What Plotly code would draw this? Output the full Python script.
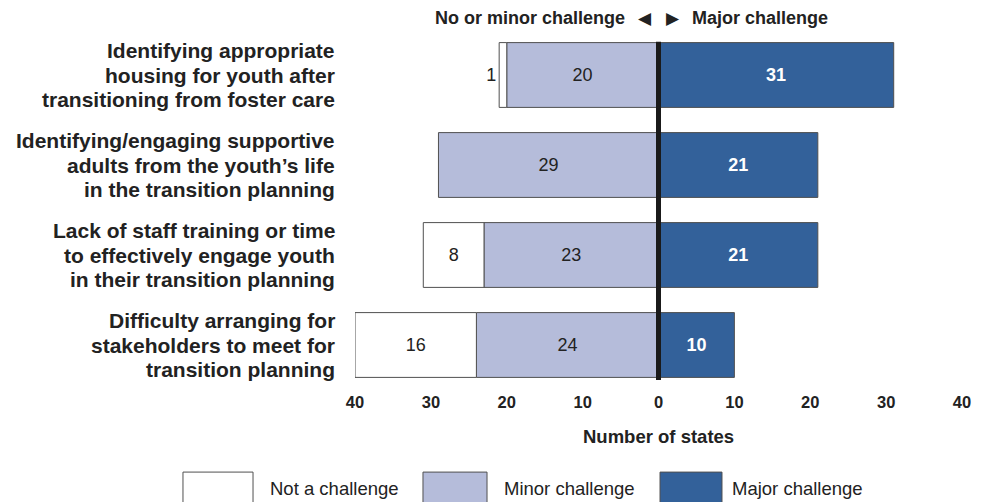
import plotly.graph_objects as go

categories = [
    "Identifying appropriate<br>housing for youth after<br>transitioning from foster care",
    "Identifying/engaging supportive<br>adults from the youth\u2019s life<br>in the transition planning",
    "Lack of staff training or time<br>to effectively engage youth<br>in their transition planning",
    "Difficulty arranging for<br>stakeholders to meet for<br>transition planning",
]
not_challenge = [1, 0, 8, 16]
minor_challenge = [20, 29, 23, 24]
major_challenge = [31, 21, 21, 10]
tick_vals = [-40, -30, -20, -10, 0, 10, 20, 30, 40]
tick_text = ["40", "30", "20", "10", "0", "10", "20", "30", "40"]
legend_names = ["Not a challenge", "Minor challenge", "Major challenge"]

WHITE = "#ffffff"
MINOR = "#b5bcda"
MAJOR = "#33619a"
EDGE = "#505050"
TXT = "#222222"
FONT = "Liberation Sans, Arial, sans-serif"
NARROW = "Liberation Sans Narrow, Arial Narrow, Liberation Sans, sans-serif"

fig = go.Figure()

fig.add_trace(go.Bar(
    y=categories, x=[-v for v in minor_challenge], orientation="h",
    marker=dict(color=MINOR, line=dict(color=EDGE, width=1)),
    text=[str(v) for v in minor_challenge], textposition="inside",
    insidetextanchor="middle", textangle=0,
    textfont=dict(family=FONT, size=18, color=TXT),
    name=legend_names[1], showlegend=False,
))
fig.add_trace(go.Bar(
    y=categories, x=[-v for v in not_challenge], orientation="h",
    marker=dict(color=WHITE, line=dict(color=EDGE, width=1)),
    text=[str(v) if v > 0 else "" for v in not_challenge],
    textposition=["outside" if v < 3 else "inside" for v in not_challenge],
    insidetextanchor="middle", textangle=0, cliponaxis=False,
    textfont=dict(family=FONT, size=18, color=TXT),
    name=legend_names[0], showlegend=False,
))
fig.add_trace(go.Bar(
    y=categories, x=major_challenge, orientation="h",
    marker=dict(color=MAJOR, line=dict(color=EDGE, width=1)),
    text=[str(v) for v in major_challenge], textposition="inside",
    insidetextanchor="middle", textangle=0,
    textfont=dict(family=FONT, size=18, color="white", weight="bold"),
    name=legend_names[2], showlegend=False,
))

# zero divider
fig.add_shape(type="line", xref="x", yref="y", x0=0, x1=0, y0=-0.37, y1=3.39,
              line=dict(color="#1a1a1a", width=5))

# category labels, one annotation per line for tight line spacing
for idx, cat in enumerate(categories):
    lines = cat.split("<br>")
    n = len(lines)
    for j, line in enumerate(lines):
        fig.add_annotation(xref="paper", yref="y", x=-0.0297, y=idx,
                           yshift=((n - 1) / 2 - j) * 24.5,
                           xanchor="right", yanchor="middle", showarrow=False,
                           text="<b>" + line + "</b>",
                           font=dict(family=FONT, size=21, color=TXT))

# header
HY = 1.0333
fig.add_annotation(xref="paper", yref="paper", x=0.4481, y=HY, xanchor="right",
                   yanchor="middle", showarrow=False,
                   text="<b>No or minor challenge</b>",
                   font=dict(family=FONT, size=18, color=TXT))
fig.add_annotation(xref="paper", yref="paper", x=0.5519, y=HY, xanchor="left",
                   yanchor="middle", showarrow=False,
                   text="<b>Major challenge</b>",
                   font=dict(family=FONT, size=18, color=TXT))
fig.add_annotation(xref="paper", yref="paper", x=0.4778, y=HY, xanchor="center",
                   yanchor="middle", showarrow=False, text="\u25c0",
                   font=dict(family="DejaVu Sans", size=17, color=TXT))
fig.add_annotation(xref="paper", yref="paper", x=0.5239, y=HY, xanchor="center",
                   yanchor="middle", showarrow=False, text="\u25b6",
                   font=dict(family="DejaVu Sans", size=17, color=TXT))

# axis title
fig.add_annotation(xref="paper", yref="paper", x=0.5, y=-0.13, xanchor="center",
                   yanchor="middle", showarrow=False, text="<b>Number of states</b>",
                   font=dict(family=NARROW, size=18.5, color=TXT))

# legend (manual)
legend_boxes = [(-0.2834, -0.168, WHITE), (0.112, 0.2175, MINOR), (0.5025, 0.6046, MAJOR)]
legend_text_x = [-0.1433, 0.2422, 0.6178]
for (x0, x1, col), tx, name in zip(legend_boxes, legend_text_x, legend_names):
    fig.add_shape(type="rect", xref="paper", yref="paper", x0=x0, x1=x1,
                  y0=-0.33, y1=-0.228, fillcolor=col, line=dict(color=EDGE, width=1))
    fig.add_annotation(xref="paper", yref="paper", x=tx, y=-0.275, xanchor="left",
                       yanchor="middle", showarrow=False, text=name,
                       font=dict(family=NARROW, size=18.5, color=TXT))

# page body has an 8px margin, so shrink the figure and margins to match
fig.update_layout(
    width=981, height=494,
    margin=dict(l=347, r=27, t=22, b=112),
    barmode="relative", bargap=0.28,
    plot_bgcolor="white", paper_bgcolor="white",
    font=dict(family=FONT, color=TXT),
    xaxis=dict(range=[-40, 40], tickvals=tick_vals, ticktext=tick_text,
               showgrid=False, zeroline=False, showline=False, ticks="",
               tickfont=dict(family=NARROW, size=16.5, color=TXT, weight="bold"),
               fixedrange=True),
    yaxis=dict(autorange="reversed", showgrid=False, zeroline=False, showline=False,
               ticks="", showticklabels=False),
)

fig.write_html("out.html")
